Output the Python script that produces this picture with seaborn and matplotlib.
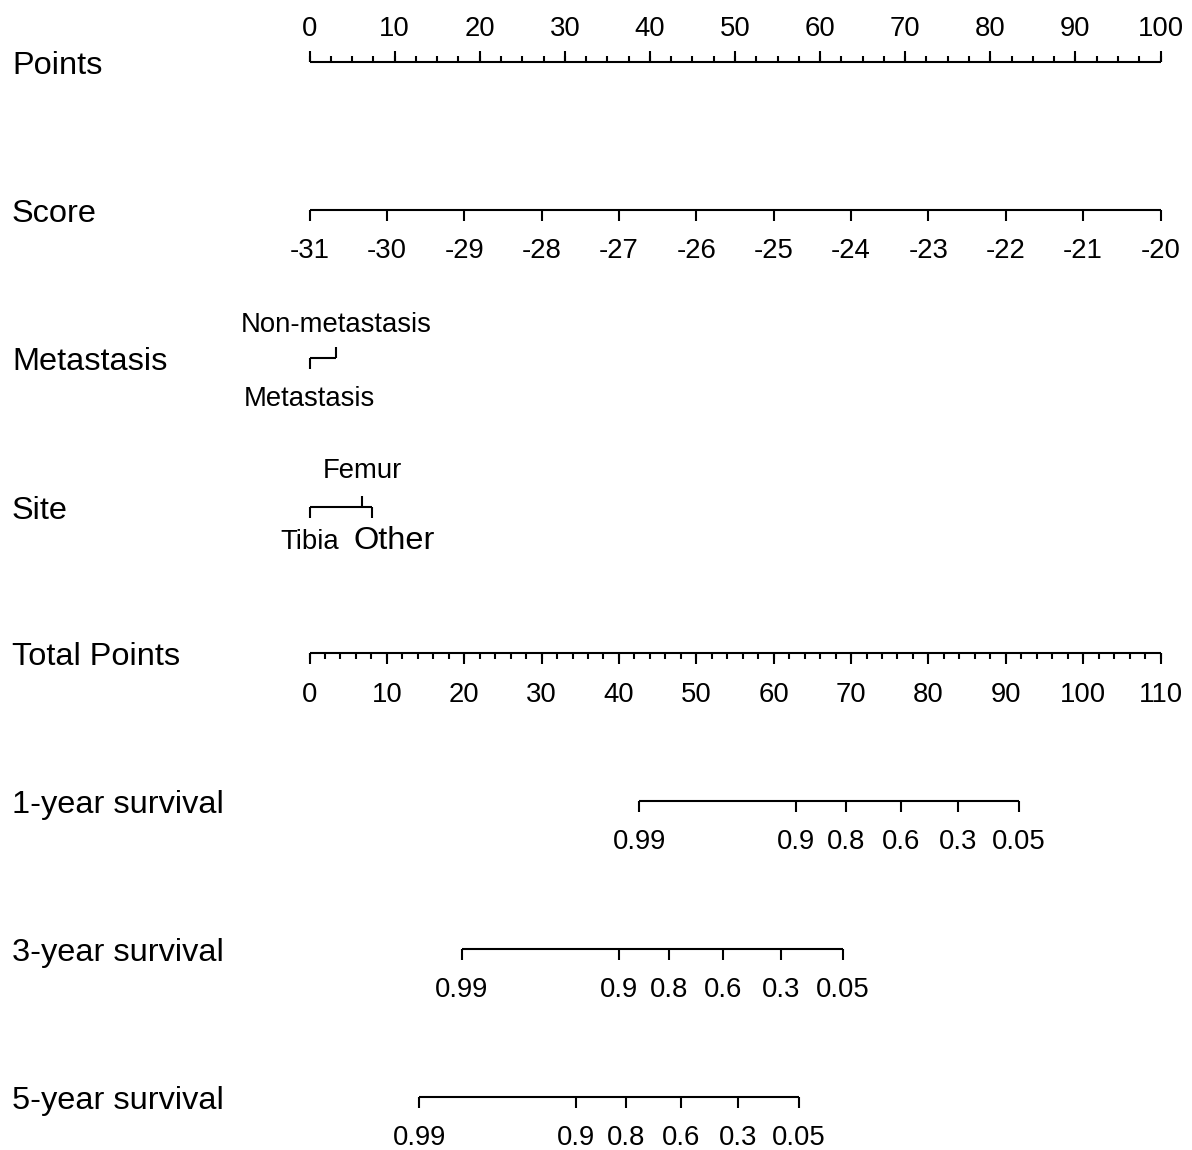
import numpy as np
import matplotlib
matplotlib.use("Agg")
import matplotlib.pyplot as plt
import seaborn as sns

# ---- nomogram content ----
row_names = ["Points", "Score", "Metastasis", "Site", "Total Points",
             "1-year survival", "3-year survival", "5-year survival"]

points_major = [0, 10, 20, 30, 40, 50, 60, 70, 80, 90, 100]
score_values = [-31, -30, -29, -28, -27, -26, -25, -24, -23, -22, -21, -20]
score_min, score_max = -31, -20

metastasis_levels = ["Metastasis", "Non-metastasis"]
metastasis_points = [0.0, 3.1]

site_levels = ["Tibia", "Femur", "Other"]
site_points = [0.0, 6.2, 7.3]

total_major = [0, 10, 20, 30, 40, 50, 60, 70, 80, 90, 100, 110]
total_max = 110

surv_labels = ["0.99", "0.9", "0.8", "0.6", "0.3", "0.05"]
surv_1yr_total = [42.65, 62.9, 69.3, 76.5, 83.8, 91.7]
surv_3yr_total = [19.7, 40.0, 46.5, 53.5, 60.9, 68.9]
surv_5yr_total = [14.2, 34.4, 40.9, 48.0, 55.4, 63.3]

# ---- style ----
sns.set_theme(style="white")
plt.rcParams["font.family"] = ["Liberation Sans", "DejaVu Sans"]
plt.rcParams["text.color"] = "black"

LW = 1.5
TICK_FS = 19.8
ROW_FS = 23.4
INK = "black"

fig = plt.figure(figsize=(11.92, 11.5), dpi=100)
ax = fig.add_axes([0, 0, 1, 1])
x0_px, x1_px = 309.5, 1160.5
ppp = (x1_px - x0_px) / 100.0
ax.set_xlim(-x0_px / ppp, 100 + (1192 - x1_px) / ppp)
ax.set_ylim(1150, 0)
ax.axis("off")

row_y = {"Points": 61.7, "Score": 210, "Metastasis": 358, "Site": 506.7,
         "Total Points": 652.7, "1-year survival": 800.7,
         "3-year survival": 949, "5-year survival": 1096.7}


def label(x, y, s, fs=TICK_FS, ha="center"):
    ax.text(x, y, s, fontsize=fs, ha=ha, va="baseline", color=INK)


# row names on the left
label_x = (12 - x0_px) / ppp
for name in row_names:
    label(label_x, row_y[name] + 12.5, name, fs=ROW_FS, ha="left")


def axis_line(xa, xb, y):
    sns.lineplot(x=[xa, xb], y=[y, y], ax=ax, color=INK, lw=LW,
                 legend=False, solid_capstyle="butt")


def ticks(xs, y, length):
    ax.vlines(xs, y, y + length, color=INK, lw=LW)


# Points scale (ticks up, labels above)
y = row_y["Points"]
axis_line(0, 100, y)
ticks(np.arange(0, 100.01, 2.5), y, -6)
ticks(points_major, y, -11)
for p in points_major:
    label(p, y - 26, str(p))

# Score scale
y = row_y["Score"]
score_pts = [(s - score_min) / (score_max - score_min) * 100 for s in score_values]
axis_line(0, 100, y)
ticks(score_pts, y, 11)
for s, p in zip(score_values, score_pts):
    label(p, y + 48, str(s))

# Metastasis
y = row_y["Metastasis"]
axis_line(min(metastasis_points), max(metastasis_points), y)
ticks([metastasis_points[0]], y, 11)
ticks([metastasis_points[1]], y, -11)
label(metastasis_points[0], y + 48, metastasis_levels[0])
label(metastasis_points[1], y - 26, metastasis_levels[1])

# Site
y = row_y["Site"]
axis_line(min(site_points), max(site_points), y)
ticks([site_points[0], site_points[2]], y, 11)
ticks([site_points[1]], y, -11)
label(site_points[0], y + 42, site_levels[0])
label(site_points[1], y - 29, site_levels[1])
label(site_points[2] + 2.6, y + 42, site_levels[2], fs=ROW_FS)

# Total Points scale (ticks down)
y = row_y["Total Points"]
to_pts = lambda t: np.asarray(t, dtype=float) * 100.0 / total_max
axis_line(0, 100, y)
ticks(to_pts(np.arange(0, total_max + 0.01, 2)), y, 6)
ticks(to_pts(total_major), y, 11)
for t in total_major:
    label(float(to_pts(t)), y + 49, str(t))

# Survival probability scales
for name, vals in [("1-year survival", surv_1yr_total),
                   ("3-year survival", surv_3yr_total),
                   ("5-year survival", surv_5yr_total)]:
    y = row_y[name]
    xs = to_pts(vals)
    axis_line(xs.min(), xs.max(), y)
    ticks(xs, y, 11)
    for lab, xv in zip(surv_labels, xs):
        label(xv, y + 48, lab)

fig.savefig("out.png", dpi=100, facecolor="white")
